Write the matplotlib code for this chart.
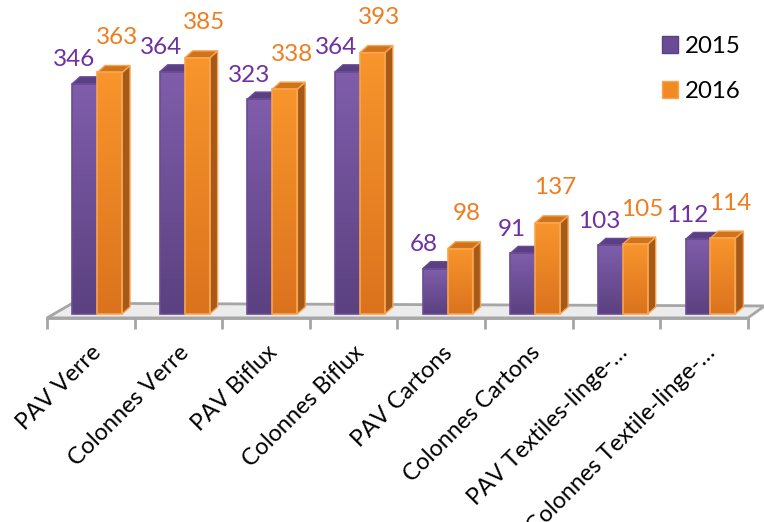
import numpy as np
import matplotlib.pyplot as plt
from matplotlib.patches import Polygon, Rectangle, Patch
from matplotlib.colors import LinearSegmentedColormap

categories = ["PAV Verre", "Colonnes Verre", "PAV Biflux", "Colonnes Biflux",
              "PAV Cartons", "Colonnes Cartons", "PAV Textiles-linge-\u2026",
              "Colonnes Textile-linge-\u2026"]
val_2015 = [346, 364, 323, 364, 68, 91, 103, 112]
val_2016 = [363, 385, 338, 393, 98, 137, 105, 114]
series = ["2015", "2016"]

plt.rcParams['font.family'] = ['Lato', 'DejaVu Sans']

fig = plt.figure(figsize=(7.64, 5.22), dpi=100)
ax = fig.add_axes([0.0615, 0.391, 0.9175, 0.609])
ax.set_xlim(-0.5, 7.5)
ax.set_ylim(-6, 472)

# floor of the 3d chart
floor = Polygon([(-0.5, -6), (7.5, -6), (7.69, 12), (-0.21, 16)], closed=True,
                facecolor='#ececec', edgecolor='#a6a6a6', lw=2, zorder=1, clip_on=False)
ax.add_patch(floor)

x = np.arange(len(categories))
w = 0.285
dx, dy = 0.09, 10.5   # depth of the bars

purple = dict(top='#7f5dab', bot='#5b4180', cap='#5a3f82', edge='#6a4c96', label='#7030a0')
orange = dict(top='#f8952c', bot='#db731e', cap='#d0741c', side='#a65a1a', edge='#f9a44e', label='#ee7d1f')


def grad_bar(x0, h, c, z, side=True):
    cmap = LinearSegmentedColormap.from_list('g', [c['bot'], c['top']])
    ax.imshow(np.linspace(0, 1, 100).reshape(-1, 1), extent=[x0, x0 + w, 0, h],
              origin='lower', cmap=cmap, aspect='auto', zorder=z)
    x1 = x0 + w
    if side:
        ax.add_patch(Polygon([(x1, 0), (x1 + dx, dy), (x1 + dx, h + dy), (x1, h)],
                             facecolor=c['side'], edgecolor=c['edge'], lw=1, zorder=z))
    ax.add_patch(Polygon([(x0, h), (x0 + dx, h + dy), (x1 + dx, h + dy), (x1, h)],
                         facecolor=c['cap'], edgecolor=c['edge'], lw=1, zorder=z))
    ax.add_patch(Rectangle((x0, 0), w, h, fill=False, edgecolor=c['edge'], lw=1.2, zorder=z))


for i in range(len(categories)):
    grad_bar(x[i] - 0.2125, val_2015[i], purple, 3, side=False)
    grad_bar(x[i] + 0.0725, val_2016[i], orange, 4)

for i in range(len(categories)):
    ax.annotate(str(val_2015[i]), xy=(x[i] - 0.2125 + w / 2, val_2015[i]),
                xytext=(-11, 24), textcoords='offset pixels', ha='center', va='center',
                color=purple['label'], fontsize=17.5, zorder=6)
    ax.annotate(str(val_2016[i]), xy=(x[i] + 0.0725 + w / 2, val_2016[i]),
                xytext=(7, 35), textcoords='offset pixels', ha='center', va='center',
                color=orange['label'], fontsize=17.5, zorder=6)

# category labels, rotated like the Excel axis
for i in range(len(categories)):
    ax.annotate(categories[i], xy=(x[i], 0), xycoords=('data', 'axes fraction'),
                xytext=(12, -36), textcoords='offset pixels', rotation=45,
                rotation_mode='anchor', ha='right', va='baseline', fontsize=16.8,
                annotation_clip=False)

ax.set_xticks(np.arange(-0.5, len(categories), 1))
ax.set_xticklabels([])
ax.tick_params(axis='x', length=8, width=2, color='#a6a6a6')
ax.set_yticks([])
for s in ['top', 'left', 'right']:
    ax.spines[s].set_visible(False)
ax.spines['bottom'].set_color('#a6a6a6')
ax.spines['bottom'].set_linewidth(2)
ax.patch.set_alpha(0)

handles = [Patch(facecolor='#6a4c96', edgecolor='#5a3f82'),
           Patch(facecolor='#f28a24', edgecolor='#f9a44e')]
fig.legend(handles, series, loc='center left', bbox_to_anchor=(0.838, 0.868),
           frameon=False, fontsize=17.3, handlelength=0.67, handleheight=0.67,
           handletextpad=0.3, labelspacing=1.0)

fig.savefig('out.png', dpi=100)
